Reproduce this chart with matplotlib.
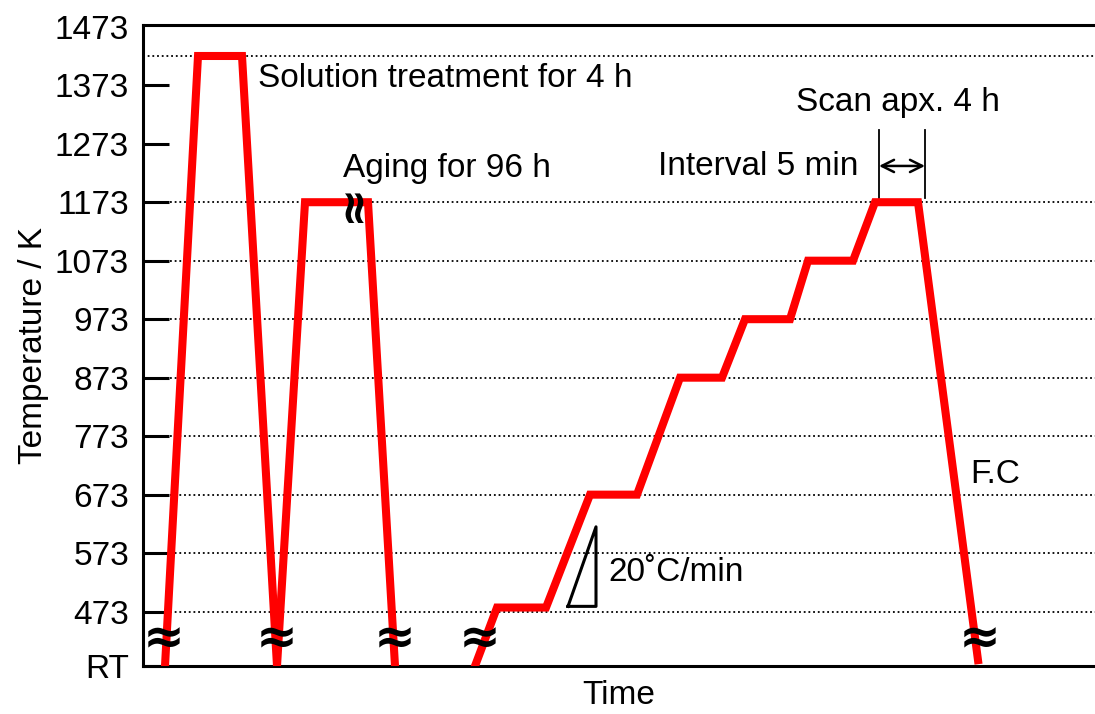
import matplotlib.pyplot as plt

plt.rcParams['font.family'] = ['Liberation Sans', 'DejaVu Sans']

# heat treatment path (time in arbitrary units, temperature in K)
solution_t = [22, 55, 99, 134]
solution_T = [380, 1423, 1423, 380]

aging_t = [134, 162, 225, 252]
aging_T = [380, 1173, 1173, 380]

scan_t = [332, 354, 403, 447, 494, 537, 579, 602, 647, 665, 710, 732, 775, 835]
scan_T = [380, 480, 480, 673, 673, 873, 873, 973, 973, 1073, 1073, 1173, 1173, 390]

tick_values = [380, 473, 573, 673, 773, 873, 973, 1073, 1173, 1273, 1373, 1473]
tick_labels = ['RT', '473', '573', '673', '773', '873', '973', '1073', '1173', '1273', '1373', '1473']
grid_values = [473, 573, 673, 773, 873, 973, 1073, 1173]

break_t = [21, 134, 252, 337, 837]
break_T = 425

fig = plt.figure(figsize=(10.95, 7.14), dpi=100)
ax = fig.add_axes([0.1306, 0.0672, 0.8694, 0.8978])
ax.set_xlim(0, 952)
ax.set_ylim(380, 1476)

# dotted guide lines
ax.hlines(grid_values, 27, 952, colors='black', linestyles=(0, (1, 1.6)), lw=1.3, zorder=1)
ax.hlines([1423], 0, 952, colors='black', linestyles=(0, (1, 1.6)), lw=1.3, zorder=1)

red = '#ff0000'
ax.plot(solution_t, solution_T, color=red, lw=5.8, solid_joinstyle='miter', zorder=3)
ax.plot(aging_t, aging_T, color=red, lw=5.8, solid_joinstyle='miter', zorder=3)
ax.plot(scan_t, scan_T, color=red, lw=5.8, solid_joinstyle='miter', zorder=3)

# break marks
for bt in break_t:
    ax.text(bt, break_T, '≈', fontsize=36, fontweight='bold', ha='center', va='center',
            family='DejaVu Sans', zorder=4)
ax.text(209, 1173, '≈', fontsize=34, fontweight='bold', ha='center', va='center',
        rotation=90, family='DejaVu Sans', zorder=4)

# slope triangle
ax.plot([425, 453, 453, 425], [482, 482, 618, 482], color='black', lw=2.2, zorder=4)

# scan interval arrow
ax.plot([736, 736], [1180, 1296], color='black', lw=1.3)
ax.plot([782, 782], [1180, 1296], color='black', lw=1.3)
ax.annotate('', xy=(782, 1235), xytext=(736, 1235),
            arrowprops=dict(arrowstyle='<->', color='black', lw=1.8, mutation_scale=22,
                            shrinkA=0, shrinkB=0))

fs = 24
ax.text(115, 1385, 'Solution treatment for 4 h', fontsize=fs, va='center', ha='left')
ax.text(200, 1231, 'Aging for 96 h', fontsize=fs, va='center', ha='left')
ax.text(715, 1234, 'Interval 5 min', fontsize=fs, va='center', ha='right')
ax.text(755, 1343, 'Scan apx. 4 h', fontsize=fs, va='center', ha='center')
ax.text(827, 707, 'F.C', fontsize=fs, va='center', ha='left')
ax.text(465, 540, '20˚C/min', fontsize=fs, va='center', ha='left')

ax.set_yticks(tick_values)
ax.set_yticklabels(tick_labels, fontsize=fs)
ax.set_xticks([])
ax.tick_params(axis='y', direction='in', length=19, width=2.2, pad=10)
ax.yaxis.get_major_ticks()[-1].tick1line.set_visible(False)

ax.spines['right'].set_visible(False)
for s in ['left', 'top', 'bottom']:
    ax.spines[s].set_linewidth(2.2)

ax.set_ylabel('Temperature / K', fontsize=fs, labelpad=4)
ax.set_xlabel('Time', fontsize=fs, labelpad=10)

fig.savefig('out.png', dpi=100)
